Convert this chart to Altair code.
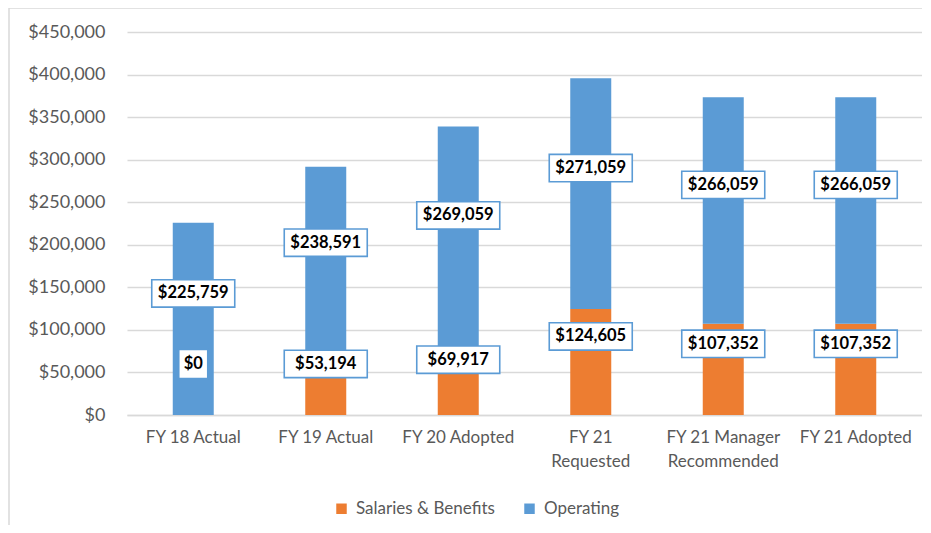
import altair as alt
import pandas as pd

categories = ["FY 18 Actual", "FY 19 Actual", "FY 20 Adopted", "FY 21 Requested",
              "FY 21 Manager Recommended", "FY 21 Adopted"]
salaries = [0, 53194, 69917, 124605, 107352, 107352]
operating = [225759, 238591, 269059, 271059, 266059, 266059]
series = ["Salaries & Benefits", "Operating"]
colors = ["#ED7D31", "#5B9BD5"]

rows = []
for c, s, o in zip(categories, salaries, operating):
    rows.append({"cat": c, "series": series[0], "value": s, "ord": 0,
                 "lo": 0, "hi": s})
    rows.append({"cat": c, "series": series[1], "value": o, "ord": 1,
                 "lo": s, "hi": s + o})
df = pd.DataFrame(rows)
df["label"] = df["value"].map(lambda v: "${:,.0f}".format(v))
df["labelpos"] = ((df["lo"] + df["hi"]) / 2 + 30000).clip(lower=60000)
df["box"] = df["label"].map(lambda t: "narrow" if len(t) <= 3 else "wide")

FONT = "Lato"
GRAY = "#595959"

x_enc = alt.X("cat:N", sort=categories, title=None,
              scale=alt.Scale(paddingInner=0.69, paddingOuter=0.345),
              axis=alt.Axis(labelAngle=0, labelFont=FONT, labelFontSize=17,
                            labelColor=GRAY, ticks=False, domainColor="#D9D9D9",
                            domainWidth=1.5, labelPadding=14, labelLineHeight=24,
                            labelExpr="datum.label == 'FY 21 Requested' ? ['FY 21', 'Requested'] : "
                                      "datum.label == 'FY 21 Manager Recommended' ? ['FY 21 Manager', 'Recommended'] : datum.label"))

bars = alt.Chart(df).mark_bar(size=41).encode(
    x=x_enc,
    y=alt.Y("value:Q", stack="zero", title=None,
            scale=alt.Scale(domain=[0, 450000]),
            axis=alt.Axis(values=list(range(0, 450001, 50000)), format="$,.0f",
                          labelFont=FONT, labelFontSize=18, labelColor=GRAY,
                          ticks=False, domain=False, gridColor="#D9D9D9",
                          gridWidth=1.5, labelPadding=22)),
    color=alt.Color("series:N", scale=alt.Scale(domain=series, range=colors),
                    legend=alt.Legend(title=None, orient="none", direction="horizontal",
                                      legendX=206, legendY=468, symbolType="square",
                                      symbolSize=110, symbolStrokeWidth=0,
                                      labelFont=FONT, labelFontSize=17, labelColor=GRAY,
                                      columnPadding=26, labelOffset=6, padding=0)),
    order=alt.Order("ord:Q"),
)

boxes = alt.Chart(df).mark_point(filled=False, fill="white", fillOpacity=1,
                                 stroke="#5B9BD5", strokeWidth=1.6, opacity=1).encode(
    x=alt.X("cat:N", sort=categories),
    y=alt.Y("labelpos:Q"),
    shape=alt.Shape("box:N", legend=None,
                    scale=alt.Scale(domain=["wide", "narrow"],
                                    range=["M-1,-0.33L1,-0.33L1,0.33L-1,0.33Z",
                                           "M-1,-1L1,-1L1,1L-1,1Z"])),
    size=alt.Size("box:N", legend=None,
                  scale=alt.Scale(domain=["wide", "narrow"], range=[6889, 841])),
)

texts = alt.Chart(df).mark_text(font=FONT, fontSize=16.5, fontWeight="bold",
                                color="black").encode(
    x=alt.X("cat:N", sort=categories),
    y=alt.Y("labelpos:Q"),
    text="label:N",
)

border = alt.Chart(pd.DataFrame({"a": [0]})).mark_rule(color="#D9D9D9", strokeWidth=1.5).encode(
    x=alt.value(-118), x2=alt.value(-118), y=alt.value(-24), y2=alt.value(520))
border_top = alt.Chart(pd.DataFrame({"a": [0]})).mark_rule(color="#D9D9D9", strokeWidth=1.5).encode(
    x=alt.value(-118), x2=alt.value(800), y=alt.value(-24), y2=alt.value(-24))

chart = alt.layer(bars, boxes, texts, border, border_top).properties(
    width=795, height=383,
    autosize=alt.AutoSizeParams(type="none"),
    padding={"left": 119, "top": 24, "right": 0, "bottom": 110},
    background="white",
).configure_view(stroke=None)

chart.save("out.html", embed_options={"renderer": "svg", "actions": False})
